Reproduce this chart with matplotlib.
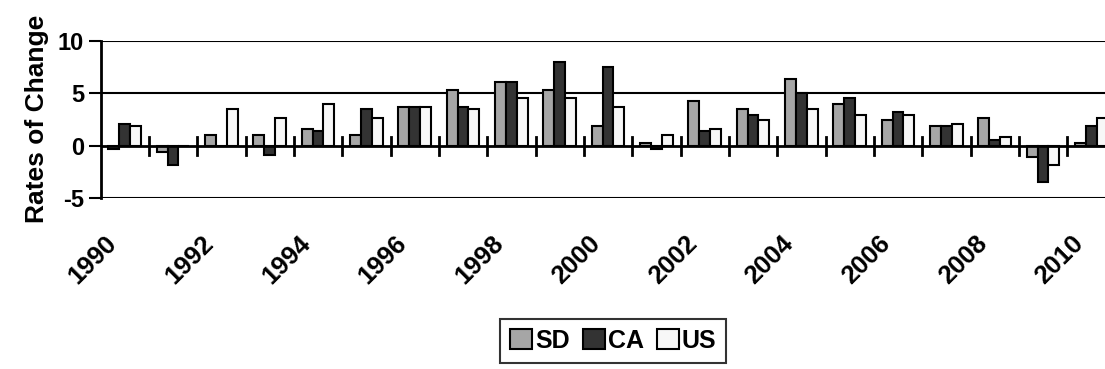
import numpy as np
import matplotlib
matplotlib.use('Agg')
import matplotlib.pyplot as plt
from matplotlib.transforms import ScaledTranslation

plt.rcParams['font.family'] = ['Liberation Sans', 'DejaVu Sans']
plt.rcParams['font.weight'] = 'bold'
plt.rcParams['axes.unicode_minus'] = False

# values
years = list(range(1990, 2011))
sd = [-0.3, -0.6, 1.05, 1.05, 1.6, 1.05, 3.7, 5.3, 6.1, 5.3, 1.85, 0.25, 4.25, 3.5, 6.4, 4.0, 2.4, 1.85, 2.65, -1.1, 0.25]
ca = [2.1, -1.9, 0.0, -0.9, 1.35, 3.5, 3.7, 3.7, 6.1, 8.0, 7.5, -0.3, 1.35, 2.9, 5.05, 4.5, 3.2, 1.85, 0.5, -3.5, 1.9]
us = [1.9, 0.0, 3.5, 2.65, 4.0, 2.65, 3.7, 3.5, 4.5, 4.5, 3.7, 1.05, 1.6, 2.4, 3.5, 2.9, 2.9, 2.1, 0.8, -1.9, 2.65]
series = ['SD', 'CA', 'US']
colors = ['#A6A6A6', '#333333', '#F7F7F7']

fig = plt.figure(figsize=(11.05, 3.69), dpi=100)
# plot runs past the right edge, as in the original
ax = fig.add_axes([0.091, 0.464, 0.9185, 0.425])

x = np.arange(len(years))
w = 0.225
for i, (vals, c, name) in enumerate(zip([sd, ca, us], colors, series)):
    ax.bar(x + (i - 1) * w, vals, width=w, color=c, edgecolor='black',
           linewidth=1.5, label=name, zorder=3)

ax.set_xlim(-0.5, len(years) - 0.5)
ax.set_ylim(-5, 10)
ax.set_yticks([-5, 0, 5, 10])
for yv in [5, 10, -5]:
    ax.axhline(yv, color='black', lw=1.5, zorder=1)
ax.axhline(0, color='black', lw=2, zorder=4)

# category separators crossing the zero line
for b in x[1:] - 0.5:
    ax.plot([b, b], [-0.95, 0.8], color='black', lw=2, zorder=4, clip_on=False)

for s in ['top', 'right', 'bottom']:
    ax.spines[s].set_visible(False)
ax.spines['left'].set_linewidth(2)
ax.tick_params(axis='y', length=9, width=1.5, labelsize=17, pad=3)
ax.tick_params(axis='x', length=0, labelsize=18.5, pad=24)
ax.set_xticks(x[::2])
ax.set_xticklabels([str(y) for y in years[::2]], rotation=45, ha='right',
                   va='top', rotation_mode='anchor', fontweight='bold')
shift = ScaledTranslation(-0.2, 0, fig.dpi_scale_trans)
for lab in ax.get_xticklabels():
    lab.set_transform(lab.get_transform() + shift)
for lab in ax.get_yticklabels():
    lab.set_fontweight('bold')
ax.set_ylabel('Rates of Change', fontsize=19, fontweight='bold', labelpad=6)

leg = fig.legend(loc='center', bbox_to_anchor=(0.555, 0.076), ncol=3,
                 frameon=True, fancybox=False, edgecolor='black',
                 prop={'size': 18, 'weight': 'bold'}, handlelength=0.88,
                 handleheight=0.85, handletextpad=0.12, columnspacing=0.52,
                 borderpad=0.4)
leg.get_frame().set_linewidth(1.5)

fig.savefig('out.png', dpi=100)
